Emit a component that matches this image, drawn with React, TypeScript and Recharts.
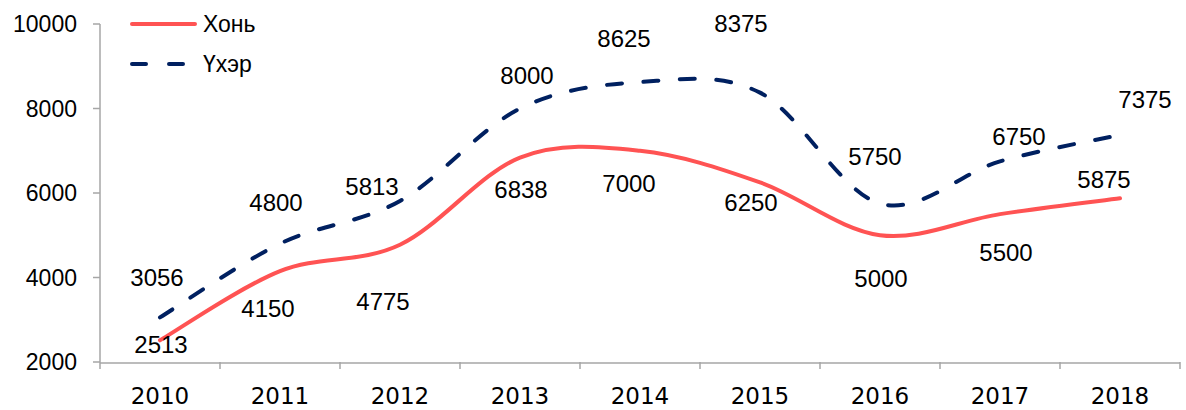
import { LabelList, Legend, Line, LineChart, XAxis, YAxis } from "recharts";

const years = ["2010", "2011", "2012", "2013", "2014", "2015", "2016", "2017", "2018"];
const sheep = [2513, 4150, 4775, 6838, 7000, 6250, 5000, 5500, 5875];
const cattle = [3056, 4800, 5813, 8000, 8625, 8375, 5750, 6750, 7375];
const yTicks = [2000, 4000, 6000, 8000, 10000];
const edgeTicks = [-0.5, 0.5, 1.5, 2.5, 3.5, 4.5, 5.5, 6.5, 7.5, 8.5];

// hand-placed label nudges (dx, dy) as in the source chart
const sheepLabelShift = [[1, 4], [-12, 37], [-17, 57], [1, 32], [-11, 33], [-9, 20], [1, 43], [6, 38], [-16, -19]];
const cattleLabelShift = [[-3, -40], [-4, -41], [-28, -15], [7, -33], [-16, -44], [-19, -69], [-5, -47], [19, -25], [25, -36]];

const RED = "#FF5353";
const NAVY = "#002060";
const AXIS = "#A6A6A6";
const ARIAL = "'Liberation Sans', Arial, sans-serif";

const rows = years.map((year, i) => ({ year, pos: i, sheep: sheep[i], cattle: cattle[i] }));

// Catmull-Rom style smoothing, close to Excel's "smoothed line"
const smooth = (context: any) => {
  let pts: number[][] = [];
  return {
    areaStart() {},
    areaEnd() {},
    lineStart() {
      pts = [];
    },
    lineEnd() {
      const n = pts.length;
      if (!n) return;
      context.moveTo(pts[0][0], pts[0][1]);
      for (let i = 0; i < n - 1; i++) {
        const p0 = pts[Math.max(i - 1, 0)];
        const p1 = pts[i];
        const p2 = pts[i + 1];
        const p3 = pts[Math.min(i + 2, n - 1)];
        context.bezierCurveTo(
          p1[0] + (p2[0] - p0[0]) / 6,
          p1[1] + (p2[1] - p0[1]) / 6,
          p2[0] - (p3[0] - p1[0]) / 6,
          p2[1] - (p3[1] - p1[1]) / 6,
          p2[0],
          p2[1],
        );
      }
    },
    point(x: number, y: number) {
      pts.push([+x, +y]);
    },
  };
};

const makeLabel = (shift: number[][]) => (p: any) => {
  const [dx, dy] = shift[p.index] ?? [0, 0];
  return (
    <text x={p.x + dx} y={p.y + dy} dy="0.36em" textAnchor="middle" fontFamily={ARIAL} fontSize={24} fill="#000">
      {p.value}
    </text>
  );
};

const YearTick = ({ x, y, payload }: any) => (
  <text x={x} y={y + 33} dy="0.36em" textAnchor="middle" fontFamily="'DejaVu Sans', Verdana, sans-serif" fontSize={23} fill="#000">
    {payload.value}
  </text>
);

const LegendBox = () => (
  <svg width={300} height={90} style={{ display: "block" }}>
    <line x1={132} y1={24} x2={195} y2={24} stroke={RED} strokeWidth={4} strokeLinecap="round" />
    <text x={203} y={24} dy="0.36em" fontFamily={ARIAL} fontSize={23} fill="#000">Хонь</text>
    <line x1={132} y1={64} x2={185} y2={64} stroke={NAVY} strokeWidth={4} strokeLinecap="round" strokeDasharray="14 23" />
    <text x={203} y={64} dy="0.36em" fontFamily={ARIAL} fontSize={23} fill="#000">Үхэр</text>
  </svg>
);

export default function App() {
  return (
    <div style={{ position: "absolute", left: 0, top: 0, background: "#fff" }}>
      <LineChart width={1186} height={410} data={rows} margin={{ top: 24, right: 6, bottom: 46, left: 0 }}>
        <XAxis
          xAxisId="main"
          dataKey="year"
          padding={{ left: 60, right: 60 }}
          axisLine={{ stroke: AXIS, strokeWidth: 1.5 }}
          tickLine={false}
          tickSize={0}
          tickMargin={0}
          tick={<YearTick />}
          interval={0}
          height={1}
        />
        <XAxis
          xAxisId="edge"
          type="number"
          dataKey="pos"
          domain={[-0.5, 8.5]}
          allowDataOverflow
          ticks={edgeTicks}
          tickFormatter={() => ""}
          axisLine={false}
          tickSize={7}
          tickLine={{ stroke: AXIS, strokeWidth: 1.5 }}
          interval={0}
          height={1}
        />
        <YAxis
          domain={[2000, 10000]}
          ticks={yTicks}
          width={100}
          axisLine={{ stroke: AXIS, strokeWidth: 1.5 }}
          tickLine={{ stroke: AXIS, strokeWidth: 1.5 }}
          tickSize={7}
          tickMargin={16}
          tick={{ fontFamily: ARIAL, fontSize: 23, fill: "#000" }}
        />
        <Legend
          layout="horizontal"
          verticalAlign="middle"
          content={() => <LegendBox />}
          wrapperStyle={{ left: 0, top: 0, width: 300, height: 90 }}
        />
        <Line
          xAxisId="main"
          dataKey="sheep"
          name="Хонь"
          type={smooth as any}
          stroke={RED}
          strokeWidth={4}
          strokeLinecap="round"
          dot={false}
          activeDot={false}
          isAnimationActive={false}
        >
          <LabelList dataKey="sheep" content={makeLabel(sheepLabelShift)} />
        </Line>
        <Line
          xAxisId="main"
          dataKey="cattle"
          name="Үхэр"
          type={smooth as any}
          stroke={NAVY}
          strokeWidth={4}
          strokeLinecap="round"
          strokeDasharray="15 21.5"
          dot={false}
          activeDot={false}
          isAnimationActive={false}
        >
          <LabelList dataKey="cattle" content={makeLabel(cattleLabelShift)} />
        </Line>
      </LineChart>
    </div>
  );
}
